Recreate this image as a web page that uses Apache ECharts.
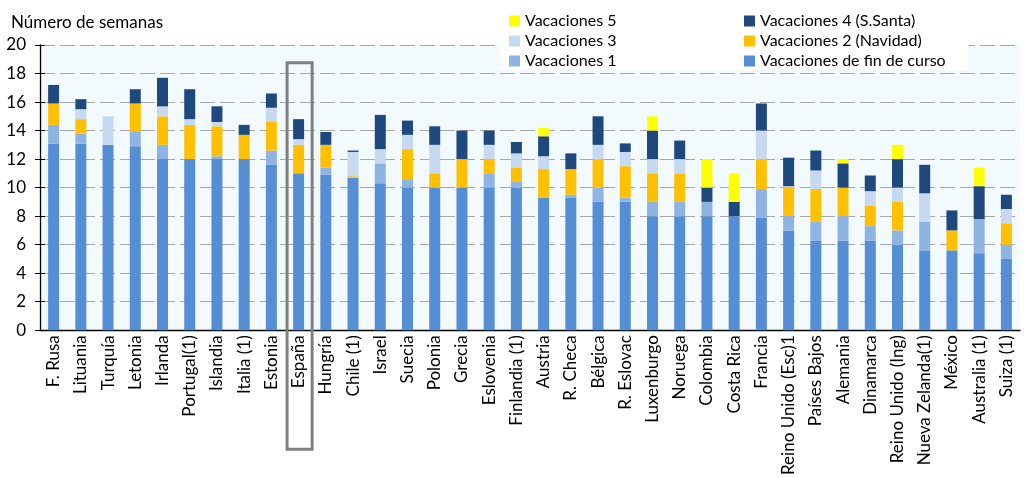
<!DOCTYPE html>
<html>
<head>
<meta charset="utf-8">
<script src="https://cdn.jsdelivr.net/npm/echarts@6/dist/echarts.min.js"></script>
<style>html,body{margin:0;padding:0;background:#fff}#c{width:1024px;height:478px}</style>
</head>
<body>
<div id="c"></div>
<script>
const categories = ["F. Rusa","Lituania","Turquía","Letonia","Irlanda","Portugal(1)","Islandia","Italia (1)","Estonia","España","Hungría","Chile (1)","Israel","Suecia","Polonia","Grecia","Eslovenia","Finlandia (1)","Austria","R. Checa","Bélgica","R. Eslovac","Luxenburgo","Noruega","Colombia","Costa Rica","Francia","Reino Unido (Esc)1","Países Bajos","Alemania","Dinamarca","Reino Unido (Ing)","Nueva Zelanda(1)","México","Australia (1)","Suiza (1)"];
const finCurso = [13.1,13.1,13.0,12.9,12.0,12.0,12.0,12.0,11.6,11.0,10.9,10.7,10.3,10.0,10.0,10.0,10.0,10.0,9.3,9.3,9.0,9.0,8.0,8.0,8.0,8.0,7.9,7.0,6.3,6.3,6.3,6.0,5.6,5.6,5.4,5.0];
const vac1 = [1.3,0.7,0,1.0,1.0,0,0.2,0,1.0,0,0.5,0,1.4,0.6,0,0,1.0,0.4,0,0.2,1.0,0.3,1.0,1.0,1.0,0,2.0,1.0,1.3,1.7,1.0,1.0,2.0,0,2.4,1.0];
const vac2 = [1.5,1.0,0,2.0,2.0,2.4,2.1,1.7,2.0,2.0,1.6,0.1,0,2.1,1.0,2.0,1.0,1.0,2.0,1.8,2.0,2.2,2.0,2.0,0,0,2.1,2.0,2.3,2.0,1.45,2.0,0,1.4,0,1.5];
const vac3 = [0,0.7,2.0,0,0.7,0.4,0.3,0,1.0,0.4,0,1.7,1.0,1.0,2.0,0,1.0,1.0,0.9,0,1.0,1.0,1.0,1.0,0,0,2.0,0.1,1.3,0,1.0,1.0,2.0,0,0,1.0];
const vac4 = [1.3,0.7,0,1.0,2.0,2.1,1.1,0.7,1.0,1.4,0.9,0.1,2.4,1.0,1.3,2.0,1.0,0.8,1.4,1.1,2.0,0.6,2.0,1.3,1.0,1.0,1.9,2.0,1.4,1.7,1.1,2.0,2.0,1.4,2.3,1.0];
const vac5 = [0,0,0,0,0,0,0,0,0,0,0,0,0,0,0,0,0,0,0.6,0,0,0,1.0,0,2.0,2.0,0,0,0,0.3,0,1.0,0,0,1.3,0];
const yTicks = {min:0, max:20, interval:2};
const highlighted = "España";

const FONT = "Lato";
const chart = echarts.init(document.getElementById('c'));
const mk = (name, data, color) => ({name, type:'bar', stack:'t', data, barWidth:11, itemStyle:{color}, emphasis:{disabled:true}});
const legendText = {fontFamily:FONT, fontSize:16, color:'#000', lineHeight:16};
chart.setOption({
  animation:false,
  textStyle:{fontFamily:FONT},
  title:{text:'Número de semanas', left:6, top:9, textStyle:{fontFamily:FONT, fontSize:17, fontWeight:'normal', color:'#000'}},
  legend:[
    {orient:'vertical', z:4, left:500, top:0, padding:[13,352,1,9], backgroundColor:'#ffffff',
     itemGap:4, itemWidth:11, itemHeight:11, icon:'rect', textStyle:legendText,
     data:['Vacaciones 5','Vacaciones 3','Vacaciones 1'], selectedMode:false},
    {orient:'vertical', z:6, left:744, top:13, padding:0, itemGap:4, itemWidth:11, itemHeight:11, icon:'rect', textStyle:legendText,
     data:['Vacaciones 4 (S.Santa)','Vacaciones 2 (Navidad)','Vacaciones de fin de curso'], selectedMode:false}
  ],
  grid:{left:40, right:4, top:45, bottom:147, show:true, backgroundColor:'#f3fafd', borderWidth:0},
  xAxis:{type:'category', data:categories,
    axisLine:{lineStyle:{color:'#000', width:1.3}},
    axisTick:{inside:true, length:5, lineStyle:{color:'#000'}},
    axisLabel:{rotate:90, interval:0, margin:5, fontFamily:FONT, fontSize:17, color:'#000'}},
  yAxis:[
    {type:'value', min:yTicks.min, max:yTicks.max, interval:yTicks.interval,
     axisLine:{show:true, lineStyle:{color:'#000', width:1.3}},
     axisTick:{show:true, length:5, lineStyle:{color:'#000'}},
     axisLabel:{margin:14, fontFamily:FONT, fontSize:17, color:'#000'},
     splitLine:{lineStyle:{color:'#a8a8a8', type:[15,5], width:1}}},
    {type:'value', position:'left', min:yTicks.min, max:yTicks.max, interval:yTicks.interval,
     axisLine:{show:false}, axisLabel:{show:false}, splitLine:{show:false},
     axisTick:{show:true, inside:true, length:5, lineStyle:{color:'#000'}}}
  ],
  series:[
    mk('Vacaciones de fin de curso', finCurso, '#558ed5'),
    mk('Vacaciones 1', vac1, '#8eb4e3'),
    mk('Vacaciones 2 (Navidad)', vac2, '#ffc000'),
    mk('Vacaciones 3', vac3, '#c6d9f1'),
    mk('Vacaciones 4 (S.Santa)', vac4, '#1f497d'),
    mk('Vacaciones 5', vac5, '#ffff00')
  ]
});
// highlight box around the selected country, positioned from the axes
const cx = chart.convertToPixel({xAxisIndex:0}, highlighted);
const yTop = chart.convertToPixel({yAxisIndex:0}, 18.75);
const y0 = chart.convertToPixel({yAxisIndex:0}, 0);
const half = chart.getModel().getComponent('xAxis',0).axis.getBandWidth()*0.46;
chart.setOption({graphic:{elements:[
  {type:'rect', z:10, shape:{x:cx-half+1, y:yTop, width:half*2, height:(y0-yTop)+119}, style:{fill:'none', stroke:'#808080', lineWidth:3}}
]}});
</script>
</body>
</html>
